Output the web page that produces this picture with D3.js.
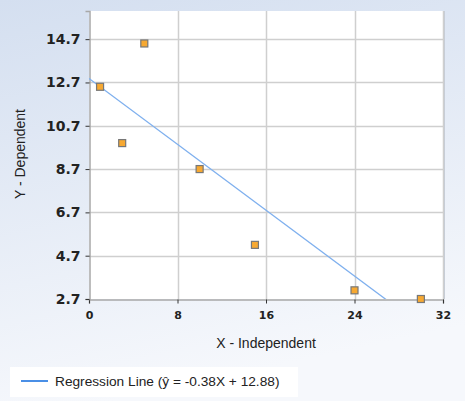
<!DOCTYPE html>
<html>
<head>
<meta charset="utf-8">
<script src="https://cdn.jsdelivr.net/npm/d3@7"></script>
<style>
  body { margin: 0; padding: 0; }
  svg { display: block; font-family: "Liberation Sans", Arial, sans-serif; }
</style>
</head>
<body>
<div id="chart"></div>
<script>
// chart size
var width = 465;
var height = 401;

// data
var xValues = [1, 3, 5, 10, 15, 24, 30];
var yValues = [12.5, 9.9, 14.5, 8.7, 5.2, 3.1, 2.7];
var xTicks = [0, 8, 16, 24, 32];
var yTicks = [2.7, 4.7, 6.7, 8.7, 10.7, 12.7, 14.7];
var slope = -0.38;
var intercept = 12.88;
var legendText = "Regression Line (\u0177 = -0.38X + 12.88)";

var plot = { left: 89, right: 443, top: 11, bottom: 299 };

var x = d3.scaleLinear().domain([0, 32]).range([plot.left, plot.right]);
var y = d3.scaleLinear().domain([2.7, 16.0]).range([plot.bottom, plot.top]);

var svg = d3.select("#chart")
  .append("svg")
  .attr("width", width)
  .attr("height", height);

// background gradient
var defs = svg.append("defs");
var grad = defs.append("linearGradient")
  .attr("id", "bg")
  .attr("x1", "0").attr("y1", "0")
  .attr("x2", "0.25").attr("y2", "1");
grad.append("stop").attr("offset", "0%").attr("stop-color", "#d4dff0");
grad.append("stop").attr("offset", "100%").attr("stop-color", "#f6f8fc");

svg.append("rect")
  .attr("width", width)
  .attr("height", height)
  .attr("fill", "url(#bg)");

defs.append("clipPath").attr("id", "clip")
  .append("rect")
  .attr("x", plot.left).attr("y", plot.top)
  .attr("width", plot.right - plot.left)
  .attr("height", plot.bottom - plot.top);

// plot area (with a soft shadow on the right)
svg.append("rect")
  .attr("x", plot.right)
  .attr("y", plot.top)
  .attr("width", 2)
  .attr("height", plot.bottom - plot.top)
  .attr("fill", "#c4ccd8");
svg.append("rect")
  .attr("x", plot.left)
  .attr("y", plot.top)
  .attr("width", plot.right - plot.left)
  .attr("height", plot.bottom - plot.top)
  .attr("fill", "#fff");

// grid lines
svg.append("g")
  .selectAll("line")
  .data(yTicks.slice(1))
  .enter()
  .append("line")
  .attr("x1", plot.left).attr("x2", plot.right)
  .attr("y1", function(d) { return Math.round(y(d)) + 0.5; })
  .attr("y2", function(d) { return Math.round(y(d)) + 0.5; })
  .attr("stroke", "#cfcfcf")
  .attr("stroke-width", 1.5);

svg.append("g")
  .selectAll("line")
  .data(xTicks.slice(1))
  .enter()
  .append("line")
  .attr("y1", plot.top).attr("y2", plot.bottom)
  .attr("x1", function(d) { return Math.round(x(d)) + 0.5; })
  .attr("x2", function(d) { return Math.round(x(d)) + 0.5; })
  .attr("stroke", "#cfcfcf")
  .attr("stroke-width", 1.5);

// axes
var xAxis = svg.append("g")
  .attr("transform", "translate(0," + (plot.bottom + 0.5) + ")")
  .call(d3.axisBottom(x).tickValues(xTicks).tickSize(4).tickPadding(8).tickFormat(d3.format("d")));
xAxis.select(".domain").attr("stroke", "#a8a8a8").attr("stroke-width", 1.5);
xAxis.selectAll(".tick line").attr("stroke", "#333");
xAxis.selectAll("text")
  .attr("fill", "#222")
  .style("font-family", "'DejaVu Sans', sans-serif")
  .style("font-size", "11px")
  .style("font-weight", "bold");

var yAxis = svg.append("g")
  .attr("transform", "translate(" + (plot.left + 0.5) + ",0)")
  .call(d3.axisLeft(y).tickValues(yTicks).tickSize(4).tickPadding(5).tickFormat(d3.format(".1f")));
yAxis.select(".domain").attr("stroke", "#a8a8a8").attr("stroke-width", 1.5);
yAxis.selectAll(".tick line").attr("stroke", "#333");
yAxis.selectAll("text")
  .attr("fill", "#222")
  .style("font-family", "'DejaVu Sans', sans-serif")
  .style("font-size", "14px")
  .style("font-weight", "bold");

// axis titles
svg.append("text")
  .attr("x", (plot.left + plot.right) / 2)
  .attr("y", 348)
  .attr("text-anchor", "middle")
  .attr("fill", "#222")
  .style("font-size", "14px")
  .text("X - Independent");

svg.append("text")
  .attr("transform", "translate(25,154) rotate(-90)")
  .attr("text-anchor", "middle")
  .attr("fill", "#222")
  .style("font-size", "14px")
  .text("Y - Dependent");

// regression line
svg.append("line")
  .attr("clip-path", "url(#clip)")
  .attr("x1", x(0))
  .attr("y1", y(intercept))
  .attr("x2", x(32))
  .attr("y2", y(intercept + slope * 32))
  .attr("stroke", "#7fb0ee")
  .attr("stroke-width", 1.3);

// points
svg.append("g")
  .selectAll("rect")
  .data(xValues)
  .enter()
  .append("rect")
  .attr("x", function(d) { return x(d) - 3.5; })
  .attr("y", function(d, i) { return y(yValues[i]) - 3.5; })
  .attr("width", 7)
  .attr("height", 7)
  .attr("fill", "#f7a932")
  .attr("stroke", "#777")
  .attr("stroke-width", 1.2);

// legend
var legend = svg.append("g")
  .attr("transform", "translate(10,367)");
legend.append("rect")
  .attr("width", 288)
  .attr("height", 30)
  .attr("fill", "#fff");
legend.append("line")
  .attr("x1", 11).attr("x2", 38)
  .attr("y1", 14).attr("y2", 14)
  .attr("stroke", "#4a8fe6")
  .attr("stroke-width", 2);
legend.append("text")
  .attr("x", 45)
  .attr("y", 19)
  .attr("fill", "#222")
  .style("font-size", "13.7px")
  .text(legendText);
</script>
</body>
</html>
